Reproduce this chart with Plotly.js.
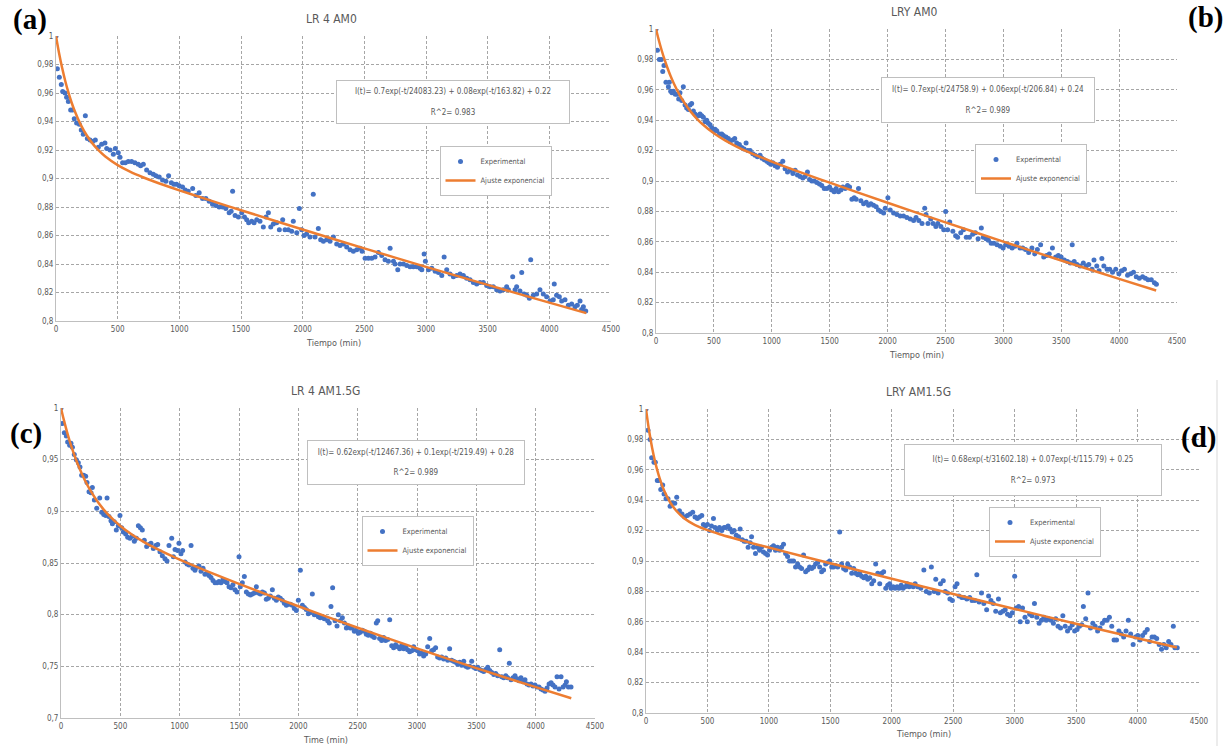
<!DOCTYPE html>
<html><head><meta charset="utf-8">
<script src="https://cdn.plot.ly/plotly-3.0.1.min.js"></script>
<style>html,body{margin:0;padding:0;background:#fff}#chart{width:1230px;height:746px}</style>
</head><body><div id="chart"></div>
<script>
// ---------- DATA ----------
const xTickVals = [0,500,1000,1500,2000,2500,3000,3500,4000,4500];
const xTickText = ['0','500','1000','1500','2000','2500','3000','3500','4000','4500'];
const yTickVals02 = [0.8,0.82,0.84,0.86,0.88,0.9,0.92,0.94,0.96,0.98,1];
const yTickText02 = ['0,8','0,82','0,84','0,86','0,88','0,9','0,92','0,94','0,96','0,98','1'];
const yTickVals05 = [0.7,0.75,0.8,0.85,0.9,0.95,1];
const yTickText05 = ['0,7','0,75','0,8','0,85','0,9','0,95','1'];

const panelTitles = ['LR 4 AM0','LRY AM0','LR 4 AM1.5G','LRY AM1.5G'];
const xTitles = ['Tiempo (min)','Tiempo (min)','Time (min)','Tiempo (min)'];
const panelLabels = ['(a)','(b)','(c)','(d)'];
const eqTexts = [
 'I(t)= 0.7exp(-t/24083.23) + 0.08exp(-t/163.82) + 0.22',
 'I(t)= 0.7exp(-t/24758.9) + 0.06exp(-t/206.84) + 0.24',
 'I(t)= 0.62exp(-t/12467.36) + 0.1exp(-t/219.49) + 0.28',
 'I(t)= 0.68exp(-t/31602.18) + 0.07exp(-t/115.79) + 0.25'];
const r2Texts = ['R^2= 0.983','R^2= 0.989','R^2= 0.989','R^2= 0.973'];
const seriesNames = ['Experimental','Ajuste exponencial'];

// Panel (a) LR 4 AM0
const tA = [0,11,27,43,54,73,86,100,119,135,148,167,189,205,221,238,254,276,297,319,343,370,397,411,438,465,481,505,519,540,562,586,613,640,667,686,708,735,762,789,810,837,864,891,913,935,956,977,999,1026,1048,1072,1108,1134,1161,1188,1215,1242,1269,1296,1323,1350,1377,1404,1420,1432,1452,1479,1506,1528,1546,1562,1587,1606,1627,1654,1681,1703,1722,1741,1762,1789,1811,1838,1857,1884,1911,1924,1952,1973,1992,2011,2032,2059,2086,2100,2127,2146,2168,2195,2222,2249,2276,2303,2330,2357,2384,2411,2438,2465,2482,2506,2533,2560,2587,2614,2641,2668,2695,2709,2736,2749,2771,2790,2817,2844,2871,2898,2925,2952,2966,2985,2995,3020,3047,3074,3101,3128,3147,3168,3195,3222,3249,3276,3303,3330,3357,3384,3411,3438,3465,3492,3519,3546,3573,3600,3627,3654,3668,3703,3722,3735,3762,3776,3795,3817,3838,3849,3870,3897,3924,3951,3978,4005,4032,4040,4059,4081,4100,4127,4154,4181,4208,4227,4249,4262,4276,4295];
const yA = [1.000,0.977,0.971,0.966,0.961,0.960,0.957,0.954,0.948,0.948,0.942,0.939,0.938,0.934,0.931,0.944,0.928,0.927,0.926,0.927,0.922,0.924,0.925,0.921,0.920,0.917,0.921,0.918,0.915,0.911,0.911,0.912,0.912,0.911,0.910,0.909,0.910,0.906,0.904,0.903,0.902,0.901,0.899,0.898,0.902,0.897,0.896,0.896,0.895,0.894,0.892,0.891,0.893,0.888,0.890,0.886,0.886,0.884,0.882,0.881,0.880,0.880,0.879,0.876,0.877,0.891,0.874,0.873,0.876,0.873,0.871,0.869,0.870,0.869,0.871,0.870,0.866,0.873,0.876,0.866,0.868,0.869,0.864,0.871,0.864,0.864,0.863,0.870,0.862,0.879,0.864,0.860,0.861,0.859,0.889,0.859,0.865,0.857,0.856,0.857,0.856,0.859,0.854,0.853,0.854,0.852,0.850,0.849,0.850,0.851,0.849,0.844,0.844,0.844,0.845,0.848,0.846,0.843,0.842,0.851,0.842,0.840,0.836,0.840,0.840,0.839,0.838,0.838,0.838,0.837,0.836,0.847,0.842,0.836,0.837,0.835,0.834,0.832,0.845,0.836,0.833,0.831,0.832,0.833,0.832,0.830,0.829,0.827,0.826,0.827,0.827,0.825,0.824,0.824,0.822,0.821,0.822,0.824,0.822,0.831,0.822,0.824,0.821,0.834,0.819,0.818,0.816,0.843,0.818,0.819,0.822,0.819,0.817,0.814,0.815,0.826,0.818,0.817,0.814,0.815,0.811,0.812,0.810,0.811,0.814,0.808,0.810,0.807];
const fitTA = [0,10,25,50,75,100,125,150,200,250,300,350,400,500,600,700,800,1000,1250,1500,2000,2500,3000,3500,4000,4300];
const fitYA = [1.0,0.99497,0.98795,0.97751,0.96844,0.96055,0.95368,0.94768,0.93781,0.93016,0.92415,0.91935,0.91543,0.90939,0.90483,0.90106,0.89773,0.89171,0.88463,0.87773,0.86422,0.85098,0.83801,0.82532,0.81288,0.80554];

// Panel (b) LRY AM0
const tB = [0,12,29,46,58,69,86,107,115,127,138,150,167,184,196,207,222,236,251,265,280,294,308,323,337,352,366,380,395,409,424,438,452,467,481,496,510,525,548,568,582,605,625,640,663,680,697,720,741,761,778,793,813,836,856,876,899,916,934,957,974,991,1009,1029,1049,1072,1095,1115,1136,1159,1182,1202,1222,1245,1268,1288,1308,1326,1346,1366,1389,1412,1432,1453,1476,1499,1519,1539,1556,1576,1597,1614,1634,1654,1672,1692,1712,1729,1749,1770,1793,1816,1836,1856,1879,1902,1922,1942,1966,1980,2003,2023,2052,2081,2110,2138,2167,2196,2225,2246,2270,2298,2321,2332,2349,2373,2393,2417,2434,2461,2485,2502,2519,2537,2564,2588,2605,2632,2656,2680,2707,2735,2758,2782,2810,2827,2851,2871,2895,2919,2946,2974,2998,3021,3049,3076,3100,3117,3144,3168,3192,3219,3247,3271,3294,3322,3349,3373,3397,3424,3452,3475,3499,3527,3554,3578,3595,3612,3636,3663,3691,3715,3738,3766,3783,3807,3827,3851,3868,3896,3919,3943,3971,3998,4022,4046,4073,4100,4124,4148,4175,4203,4227,4250,4278,4305,4322];
const yB = [1.000,0.986,0.980,0.980,0.972,0.976,0.965,0.962,0.965,0.959,0.958,0.959,0.957,0.957,0.954,0.958,0.953,0.962,0.950,0.948,0.947,0.950,0.951,0.946,0.944,0.943,0.943,0.944,0.943,0.942,0.939,0.940,0.938,0.937,0.935,0.933,0.934,0.933,0.931,0.931,0.930,0.929,0.928,0.926,0.927,0.928,0.925,0.924,0.922,0.921,0.925,0.920,0.920,0.918,0.917,0.916,0.917,0.915,0.914,0.913,0.912,0.911,0.912,0.910,0.909,0.911,0.913,0.908,0.906,0.907,0.905,0.907,0.904,0.903,0.902,0.903,0.906,0.901,0.900,0.900,0.899,0.898,0.897,0.895,0.895,0.896,0.894,0.893,0.895,0.893,0.894,0.896,0.895,0.897,0.896,0.888,0.889,0.888,0.895,0.887,0.885,0.886,0.884,0.885,0.884,0.883,0.881,0.880,0.879,0.882,0.889,0.881,0.879,0.878,0.877,0.877,0.876,0.875,0.874,0.876,0.874,0.872,0.882,0.878,0.872,0.875,0.872,0.870,0.872,0.870,0.868,0.880,0.868,0.873,0.867,0.864,0.863,0.866,0.868,0.863,0.863,0.865,0.866,0.862,0.869,0.863,0.862,0.861,0.859,0.859,0.858,0.857,0.856,0.858,0.857,0.856,0.857,0.859,0.856,0.856,0.855,0.853,0.856,0.852,0.855,0.858,0.850,0.851,0.852,0.856,0.850,0.851,0.850,0.848,0.847,0.846,0.858,0.847,0.845,0.844,0.846,0.844,0.845,0.842,0.848,0.844,0.841,0.849,0.844,0.842,0.842,0.840,0.842,0.839,0.841,0.842,0.838,0.839,0.840,0.837,0.836,0.837,0.836,0.835,0.835,0.833,0.832];
const fitTB = [0,10,25,50,75,100,125,150,200,250,300,350,400,500,600,700,800,1000,1250,1500,2000,2500,3000,3500,4000,4320];
const fitYB = [1.0,0.99689,0.99246,0.98570,0.97963,0.97418,0.96926,0.96483,0.95718,0.95088,0.94564,0.94122,0.93746,0.93135,0.92654,0.92252,0.91899,0.91277,0.90568,0.89890,0.88568,0.87277,0.86012,0.84772,0.83557,0.82792];

// Panel (c) LR 4 AM1.5G
const tC = [0,11,28,45,56,73,84,96,112,129,146,160,174,191,208,219,236,253,264,281,301,326,343,360,377,388,404,421,433,449,466,483,497,511,525,545,562,581,601,618,635,652,669,685,702,722,742,758,778,798,815,834,854,876,893,910,933,947,961,983,994,1011,1025,1045,1062,1079,1096,1112,1129,1146,1163,1180,1197,1213,1230,1247,1264,1281,1298,1315,1331,1348,1365,1382,1399,1416,1433,1449,1466,1483,1500,1511,1528,1545,1562,1579,1596,1612,1629,1646,1663,1680,1697,1714,1730,1747,1764,1781,1798,1815,1831,1848,1865,1882,1899,1916,1933,1949,1966,1983,2000,2017,2034,2051,2067,2084,2101,2118,2135,2152,2169,2185,2202,2219,2247,2261,2275,2289,2309,2326,2337,2354,2371,2388,2405,2421,2438,2455,2472,2489,2506,2522,2539,2556,2573,2590,2607,2624,2640,2657,2669,2685,2702,2719,2736,2753,2770,2787,2803,2820,2837,2854,2871,2888,2905,2921,2938,2955,2972,2989,3006,3022,3039,3056,3073,3090,3107,3124,3140,3157,3174,3191,3208,3225,3242,3259,3275,3292,3309,3326,3343,3360,3377,3394,3411,3427,3444,3461,3478,3495,3512,3529,3545,3562,3579,3596,3613,3630,3647,3663,3680,3697,3714,3731,3748,3764,3778,3792,3809,3826,3843,3860,3876,3893,3910,3927,3944,3961,3978,3994,4011,4028,4045,4062,4079,4096,4113,4130,4146,4163,4180,4197,4214,4231,4248,4259,4276,4298];
const yC = [1.000,0.985,0.976,0.973,0.967,0.964,0.966,0.962,0.955,0.950,0.947,0.943,0.935,0.935,0.934,0.928,0.919,0.918,0.923,0.911,0.903,0.913,0.899,0.897,0.896,0.913,0.895,0.891,0.888,0.890,0.882,0.886,0.896,0.884,0.880,0.878,0.875,0.874,0.876,0.871,0.874,0.886,0.884,0.882,0.872,0.866,0.868,0.869,0.864,0.867,0.868,0.861,0.857,0.854,0.852,0.867,0.874,0.856,0.863,0.862,0.869,0.859,0.862,0.851,0.849,0.848,0.867,0.845,0.843,0.846,0.847,0.842,0.845,0.839,0.840,0.838,0.836,0.833,0.831,0.831,0.832,0.831,0.834,0.832,0.831,0.827,0.826,0.829,0.824,0.822,0.856,0.827,0.831,0.837,0.822,0.820,0.819,0.820,0.821,0.827,0.821,0.820,0.822,0.821,0.815,0.816,0.818,0.824,0.816,0.814,0.817,0.816,0.814,0.811,0.809,0.810,0.810,0.809,0.806,0.804,0.814,0.843,0.809,0.807,0.805,0.801,0.802,0.820,0.800,0.800,0.798,0.797,0.798,0.796,0.794,0.792,0.808,0.826,0.794,0.789,0.800,0.794,0.797,0.792,0.787,0.789,0.787,0.787,0.784,0.785,0.782,0.783,0.785,0.784,0.781,0.780,0.782,0.779,0.778,0.792,0.794,0.777,0.775,0.778,0.775,0.776,0.795,0.770,0.768,0.771,0.769,0.767,0.770,0.767,0.769,0.766,0.764,0.765,0.769,0.766,0.765,0.762,0.763,0.760,0.762,0.769,0.777,0.765,0.766,0.768,0.759,0.758,0.759,0.757,0.758,0.756,0.767,0.756,0.755,0.754,0.752,0.754,0.751,0.755,0.750,0.749,0.750,0.755,0.749,0.748,0.749,0.747,0.746,0.745,0.747,0.749,0.746,0.744,0.742,0.743,0.741,0.766,0.740,0.739,0.741,0.739,0.753,0.737,0.739,0.741,0.738,0.736,0.739,0.735,0.737,0.733,0.732,0.733,0.731,0.732,0.730,0.730,0.728,0.727,0.726,0.729,0.733,0.734,0.732,0.730,0.740,0.728,0.740,0.730,0.732,0.735,0.730,0.730];
const fitTC = [0,10,25,50,75,100,125,150,200,250,300,350,400,500,600,700,800,1000,1250,1500,2000,2500,3000,3500,4000,4300];
const fitYC = [1.0,0.99497,0.98799,0.97715,0.96734,0.95845,0.95039,0.94308,0.93034,0.91970,0.91075,0.90313,0.89659,0.88587,0.87737,0.87027,0.86408,0.85326,0.84119,0.82983,0.80812,0.78735,0.76740,0.74824,0.72983,0.71913];

// Panel (d) LRY AM1.5G
const tD = [0,16,33,46,65,76,92,103,120,136,147,163,179,196,212,234,250,272,293,315,337,359,380,399,418,435,454,467,484,500,516,533,549,562,581,598,617,636,652,668,685,701,717,734,753,766,783,799,815,831,848,859,875,891,907,924,940,956,973,989,1005,1022,1038,1054,1070,1087,1103,1119,1136,1152,1168,1185,1201,1217,1234,1250,1266,1282,1299,1315,1331,1348,1364,1380,1397,1413,1429,1445,1462,1478,1494,1511,1527,1543,1560,1576,1592,1608,1625,1641,1657,1674,1690,1706,1723,1739,1755,1772,1788,1804,1821,1837,1853,1869,1886,1902,1918,1934,1951,1967,1983,1994,2011,2027,2043,2059,2076,2092,2108,2125,2141,2157,2174,2190,2210,2236,2261,2281,2306,2322,2345,2358,2377,2396,2419,2435,2454,2473,2493,2515,2531,2547,2570,2589,2611,2634,2653,2676,2692,2711,2730,2749,2772,2788,2807,2826,2846,2868,2884,2904,2923,2942,2962,2981,3000,3013,3032,3045,3064,3084,3103,3122,3141,3161,3180,3199,3218,3238,3257,3276,3296,3315,3334,3353,3373,3392,3411,3430,3450,3469,3488,3508,3527,3546,3559,3578,3597,3617,3636,3655,3675,3694,3713,3732,3752,3771,3790,3809,3829,3848,3867,3887,3906,3925,3944,3964,3983,4002,4021,4041,4060,4079,4098,4118,4137,4156,4176,4195,4214,4233,4253,4272,4291,4304,4323];
const yD = [1.000,0.986,0.980,0.968,0.965,0.965,0.953,0.953,0.947,0.950,0.944,0.941,0.941,0.936,0.938,0.938,0.942,0.933,0.931,0.929,0.930,0.931,0.932,0.929,0.928,0.929,0.930,0.924,0.923,0.924,0.920,0.923,0.928,0.922,0.920,0.922,0.920,0.922,0.922,0.923,0.921,0.919,0.920,0.917,0.916,0.921,0.914,0.913,0.913,0.909,0.912,0.916,0.909,0.905,0.909,0.907,0.909,0.906,0.905,0.904,0.907,0.909,0.910,0.907,0.909,0.907,0.909,0.911,0.905,0.903,0.900,0.900,0.900,0.896,0.898,0.896,0.895,0.904,0.893,0.894,0.896,0.895,0.896,0.898,0.899,0.896,0.893,0.894,0.898,0.899,0.900,0.896,0.896,0.897,0.896,0.919,0.898,0.895,0.894,0.898,0.896,0.892,0.895,0.892,0.891,0.892,0.890,0.889,0.890,0.888,0.889,0.885,0.887,0.898,0.892,0.885,0.892,0.893,0.882,0.884,0.885,0.882,0.883,0.882,0.883,0.882,0.884,0.882,0.883,0.885,0.883,0.884,0.883,0.885,0.883,0.882,0.894,0.880,0.879,0.896,0.880,0.888,0.879,0.885,0.887,0.880,0.879,0.875,0.874,0.883,0.885,0.877,0.876,0.876,0.875,0.876,0.874,0.874,0.891,0.873,0.879,0.872,0.868,0.877,0.874,0.872,0.867,0.875,0.866,0.867,0.868,0.865,0.864,0.866,0.890,0.869,0.870,0.860,0.869,0.863,0.860,0.865,0.864,0.872,0.863,0.859,0.861,0.863,0.861,0.862,0.861,0.859,0.862,0.857,0.856,0.864,0.857,0.854,0.856,0.858,0.854,0.855,0.857,0.858,0.870,0.862,0.879,0.856,0.859,0.857,0.854,0.856,0.859,0.861,0.861,0.863,0.857,0.848,0.848,0.854,0.852,0.850,0.854,0.861,0.852,0.845,0.850,0.851,0.848,0.851,0.853,0.855,0.847,0.850,0.850,0.849,0.845,0.842,0.845,0.843,0.847,0.845,0.857,0.843,0.843];
const fitTD = [0,10,25,50,75,100,125,150,200,250,300,350,400,500,600,700,800,1000,1250,1500,2000,2500,3000,3500,4000,4320];
const fitYD = [1.0,0.99399,0.98587,0.97438,0.96501,0.95737,0.95110,0.94594,0.93816,0.93272,0.92882,0.92592,0.92366,0.92026,0.91760,0.91527,0.91307,0.90883,0.90363,0.89848,0.88830,0.87828,0.86842,0.85871,0.84915,0.84312];

// ---------- LAYOUT HELPERS ----------
const W = 1230, H = 746;
const PX = x => x / W, PY = y => 1 - y / H;
const FONT = 'Liberation Sans Narrow, DejaVu Sans Condensed, Arial Narrow, sans-serif';
const GREY = '#595959';
const BLUE = '#4472C4', ORANGE = '#ED7D31';

// plot boxes in pixels: [left, right, top, bottom]
const boxes = [[56,611,36,321],[656,1177,29,333],[61,595,408,718],[646,1199,409,713]];
const yTicks = [[yTickVals02,yTickText02,[0.8,1]],[yTickVals02,yTickText02,[0.8,1]],[yTickVals05,yTickText05,[0.7,1]],[yTickVals02,yTickText02,[0.8,1]]];
const titlePos = [[331,19],[914,12],[326,391],[918,392]];
const xTitlePos = [[333,343],[916,355],[326,740],[923,734]];
const labelPos = [[30,19],[1205,17],[26,433],[1198,438]];
const eqBox = [[336,570,80,124],[881,1095,77,123],[307,525,440,485],[904,1162,444,496]];
const legBox = [[455,536,146],[985,1077,144],[377,458,516],[1002,1088,507]];

const ts = [tA,tB,tC,tD], ys = [yA,yB,yC,yD];
const fts = [fitTA,fitTB,fitTC,fitTD], fys = [fitYA,fitYB,fitYC,fitYD];

const data = [], layout = {
  width: W, height: H, margin:{l:0,r:0,t:0,b:0},
  paper_bgcolor:'#fff', plot_bgcolor:'#fff', showlegend:true,
  annotations: [], shapes: []
};

for (let i = 0; i < 4; i++) {
  const sfx = i === 0 ? '' : String(i+1);
  const [l,r,t,b] = boxes[i];
  const legName = 'legend' + sfx;
  layout['xaxis'+sfx] = {
    domain:[PX(l),PX(r)], anchor:'y'+sfx, range:[0,4500],
    tickmode:'array', tickvals:xTickVals, ticktext:xTickText,
    showgrid:true, gridcolor:'#a6a6a6', griddash:'3px,2px', gridwidth:1,
    showline:true, linecolor:'#bfbfbf', linewidth:1, zeroline:false, ticks:'',
    tickfont:{family:FONT,size:8,color:GREY}, fixedrange:true
  };
  layout['yaxis'+sfx] = {
    domain:[PY(b),PY(t)], anchor:'x'+sfx, range:yTicks[i][2],
    tickmode:'array', tickvals:yTicks[i][0], ticktext:yTicks[i][1],
    showgrid:true, gridcolor:'#a6a6a6', griddash:'3px,2px', gridwidth:1,
    showline:true, linecolor:'#bfbfbf', linewidth:1, zeroline:false, ticks:'',
    tickfont:{family:FONT,size:8,color:GREY}, fixedrange:true
  };
  data.push({
    type:'scatter', mode:'markers', x:ts[i], y:ys[i], name:seriesNames[0],
    xaxis:'x'+sfx, yaxis:'y'+sfx, legend:legName, legendgroup:'e'+i,
    marker:{color:BLUE, size:5}
  });
  data.push({
    type:'scatter', mode:'lines', x:fts[i], y:fys[i], name:seriesNames[1],
    xaxis:'x'+sfx, yaxis:'y'+sfx, legend:legName, legendgroup:'f'+i,
    line:{color:ORANGE, width:2.5, shape:'spline', smoothing:0.8}
  });
  const lb = legBox[i];
  layout[legName] = {
    x:PX((lb[0]+lb[1])/2), y:PY(lb[2]), xanchor:'center', yanchor:'top',
    bgcolor:'#fff', bordercolor:'#bfbfbf', borderwidth:1,
    font:{family:FONT,size:7.5,color:GREY}, itemwidth:30, tracegroupgap:0,
    traceorder:'grouped', orientation:'v'
  };
  layout.annotations.push({
    xref:'paper', yref:'paper', x:PX(titlePos[i][0]), y:PY(titlePos[i][1]),
    xanchor:'center', yanchor:'middle', showarrow:false, text:panelTitles[i],
    font:{family:FONT,size:12,color:GREY}
  });
  layout.annotations.push({
    xref:'paper', yref:'paper', x:PX(xTitlePos[i][0]), y:PY(xTitlePos[i][1]),
    xanchor:'center', yanchor:'middle', showarrow:false, text:xTitles[i],
    font:{family:FONT,size:9,color:GREY}
  });
  layout.annotations.push({
    xref:'paper', yref:'paper', x:PX(labelPos[i][0]), y:PY(labelPos[i][1]),
    xanchor:'center', yanchor:'middle', showarrow:false, text:'<b>'+panelLabels[i]+'</b>',
    font:{family:'Liberation Serif, Times New Roman, serif',size:29,color:'#000'}
  });
  const eb = eqBox[i];
  layout.annotations.push({
    xref:'paper', yref:'paper', x:PX((eb[0]+eb[1])/2), y:PY((eb[2]+eb[3])/2),
    xanchor:'center', yanchor:'middle', showarrow:false,
    text: eqTexts[i] + '<br><br>' + r2Texts[i],
    width: eb[1]-eb[0]-4, height: eb[3]-eb[2]-4, borderpad:1,
    bgcolor:'#fff', bordercolor:'#bfbfbf', borderwidth:1,
    font:{family:FONT,size:8,color:GREY}
  });
}
layout.shapes.push({type:'line', xref:'paper', yref:'paper', x0:PX(1217), x1:PX(1217), y0:PY(380), y1:0, line:{color:'#d9d9d9', width:1}});

Plotly.newPlot('chart', data, layout, {displayModeBar:false, staticPlot:true});
</script>
</body></html>
